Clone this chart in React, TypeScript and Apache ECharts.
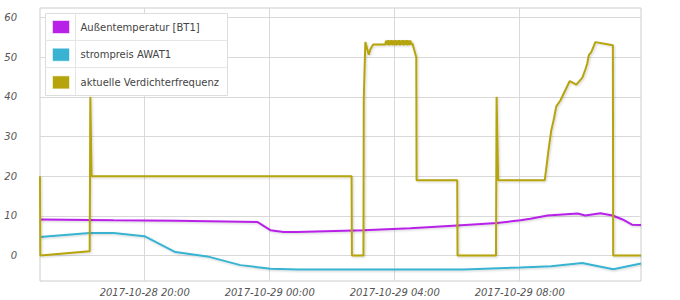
import React, { useEffect, useRef } from "react";
import * as echarts from "echarts";

// x values are hours counted from 2017-10-28 00:00
const xTickHours = [20, 24, 28, 32];
const xTickLabels = ["2017-10-28 20:00", "2017-10-29 00:00", "2017-10-29 04:00", "2017-10-29 08:00"];
const yTicks = [0, 10, 20, 30, 40, 50, 60];

const seriesNames = ["Außentemperatur [BT1]", "strompreis AWAT1", "aktuelle Verdichterfrequenz"];
const seriesColors = ["#b822e8", "#38b4d2", "#b5a40c"];

const aussentemperatur: [number, number][] = [
  [16.65, 9.1], [19.0, 8.9], [21.0, 8.8], [23.6, 8.5], [24.02, 6.4], [24.44, 5.95], [24.89, 5.95],
  [27.0, 6.4], [28.5, 6.9], [30.0, 7.6], [31.27, 8.2], [32.02, 8.9], [32.34, 9.3], [32.89, 10.1],
  [33.85, 10.6], [34.1, 10.1], [34.58, 10.7], [34.97, 10.1], [35.29, 9.1], [35.59, 7.8], [35.88, 7.7],
];

const strompreis: [number, number][] = [
  [16.65, 4.7], [18.24, 5.7], [19.0, 5.7], [19.99, 4.9], [20.98, 0.9], [22.0, -0.2], [23.06, -2.4],
  [24.02, -3.3], [24.89, -3.5], [30.2, -3.5], [32.02, -3.0], [33.0, -2.7], [34.0, -1.85],
  [34.99, -3.45], [35.88, -2.0],
];

const verdichter: [number, number][] = [
  [16.65, 20], [16.66, 0], [18.24, 1.1], [18.26, 40], [18.3, 20], [26.62, 20], [26.63, 0], [27.0, 0],
  [27.01, 39.6], [27.06, 53.8], [27.17, 50.6], [27.22, 52], [27.31, 53.2], [27.7, 53.2],
  [27.72, 54.2], [27.75, 53.1], [27.78, 54.3], [27.81, 53.0], [27.84, 54.2], [27.87, 53.1],
  [27.9, 54.3], [27.93, 53.0], [27.96, 54.2], [27.99, 53.1], [28.02, 54.3], [28.05, 53.0],
  [28.08, 54.2], [28.11, 53.1], [28.14, 54.3], [28.17, 53.0], [28.2, 54.2], [28.23, 53.1],
  [28.26, 54.3], [28.29, 53.0], [28.32, 54.2], [28.35, 53.1], [28.38, 54.3], [28.41, 53.0],
  [28.44, 54.2], [28.47, 53.1], [28.5, 54.2], [28.53, 53.2], [28.56, 53.6],
  [28.69, 50], [28.7, 19], [30.0, 19],
  [30.01, 0], [31.24, 0], [31.26, 40], [31.31, 19], [32.8, 19], [32.86, 22.7], [32.92, 26.5],
  [33.01, 31.6], [33.08, 34], [33.17, 37.6], [33.3, 39.1], [33.6, 44], [33.81, 43.1], [34.0, 44.8],
  [34.1, 46.9], [34.16, 48.4], [34.21, 50.5], [34.29, 51.3], [34.42, 53.8], [34.98, 53],
  [34.99, 0], [35.88, 0],
];

const FONT = "DejaVu Sans";

export default function App() {
  const ref = useRef<HTMLDivElement>(null);
  useEffect(() => {
    if (!ref.current) return;
    const chart = echarts.init(ref.current, undefined, { renderer: "svg" });
    const lineStyle = (c: string) => ({
      color: c,
      width: 2,
      shadowColor: "rgba(0,0,0,0.18)",
      shadowBlur: 2,
      shadowOffsetX: 1,
      shadowOffsetY: 1,
    });
    const datasets = [aussentemperatur, strompreis, verdichter];
    chart.setOption({
      animation: false,
      backgroundColor: "#ffffff",
      grid: {
        left: 40,
        top: 8,
        right: 39,
        bottom: 19,
        show: true,
        borderColor: "#cccccc",
        borderWidth: 1,
      },
      xAxis: {
        type: "value",
        min: 16.65,
        max: 35.88,
        axisLine: { show: false },
        axisTick: { show: false, customValues: xTickHours },
        splitLine: { show: true, lineStyle: { color: "#d9d9d9", width: 1 } },
        axisLabel: {
          customValues: xTickHours,
          formatter: (v: number) => xTickLabels[xTickHours.indexOf(Math.round(v))] ?? "",
          fontFamily: FONT,
          fontSize: 10,
          fontStyle: "italic",
          color: "#555555",
          margin: 6,
        },
      },
      yAxis: {
        type: "value",
        min: -6.4,
        max: 62.4,
        axisLine: { show: false },
        axisTick: { show: false, customValues: yTicks },
        splitLine: { show: true, lineStyle: { color: "#d9d9d9", width: 1 } },
        axisLabel: {
          customValues: yTicks,
          fontFamily: FONT,
          fontSize: 10,
          fontStyle: "italic",
          color: "#555555",
          margin: 23,
        },
      },
      legend: {
        orient: "vertical",
        left: 52,
        top: 20,
        padding: 0,
        itemWidth: 17,
        itemHeight: 13,
        itemGap: 13.7,
        icon: "rect",
        z: 10,
        itemStyle: { borderColor: "rgba(255,255,255,0.55)", borderWidth: 1 },
        textStyle: {
          fontFamily: FONT,
          fontSize: 10,
          color: "#444444",
          padding: [0, 0, 0, 6],
        },
        data: seriesNames,
      },
      graphic: [
        {
          type: "rect",
          z: 5,
          shape: { x: 45.5, y: 13.5, width: 182, height: 82 },
          style: { fill: "#ffffff", stroke: "#dddddd", lineWidth: 1 },
        },
        {
          type: "line",
          z: 11,
          shape: { x1: 75.5, y1: 13.5, x2: 75.5, y2: 95.5 },
          style: { stroke: "#e6e6e6", lineWidth: 1 },
        },
        {
          type: "line",
          z: 11,
          shape: { x1: 45.5, y1: 40.5, x2: 227.5, y2: 40.5 },
          style: { stroke: "#e6e6e6", lineWidth: 1 },
        },
        {
          type: "line",
          z: 11,
          shape: { x1: 45.5, y1: 67.5, x2: 227.5, y2: 67.5 },
          style: { stroke: "#e6e6e6", lineWidth: 1 },
        },
      ],
      series: seriesNames.map((name, i) => ({
        name,
        type: "line",
        data: datasets[i],
        showSymbol: false,
        symbol: "none",
        color: seriesColors[i],
        lineStyle: lineStyle(seriesColors[i]),
        z: 2,
      })),
    });
    return () => chart.dispose();
  }, []);
  return (
    <div
      ref={ref}
      style={{ position: "absolute", left: 0, top: 0, width: 680, height: 300 }}
    />
  );
}
